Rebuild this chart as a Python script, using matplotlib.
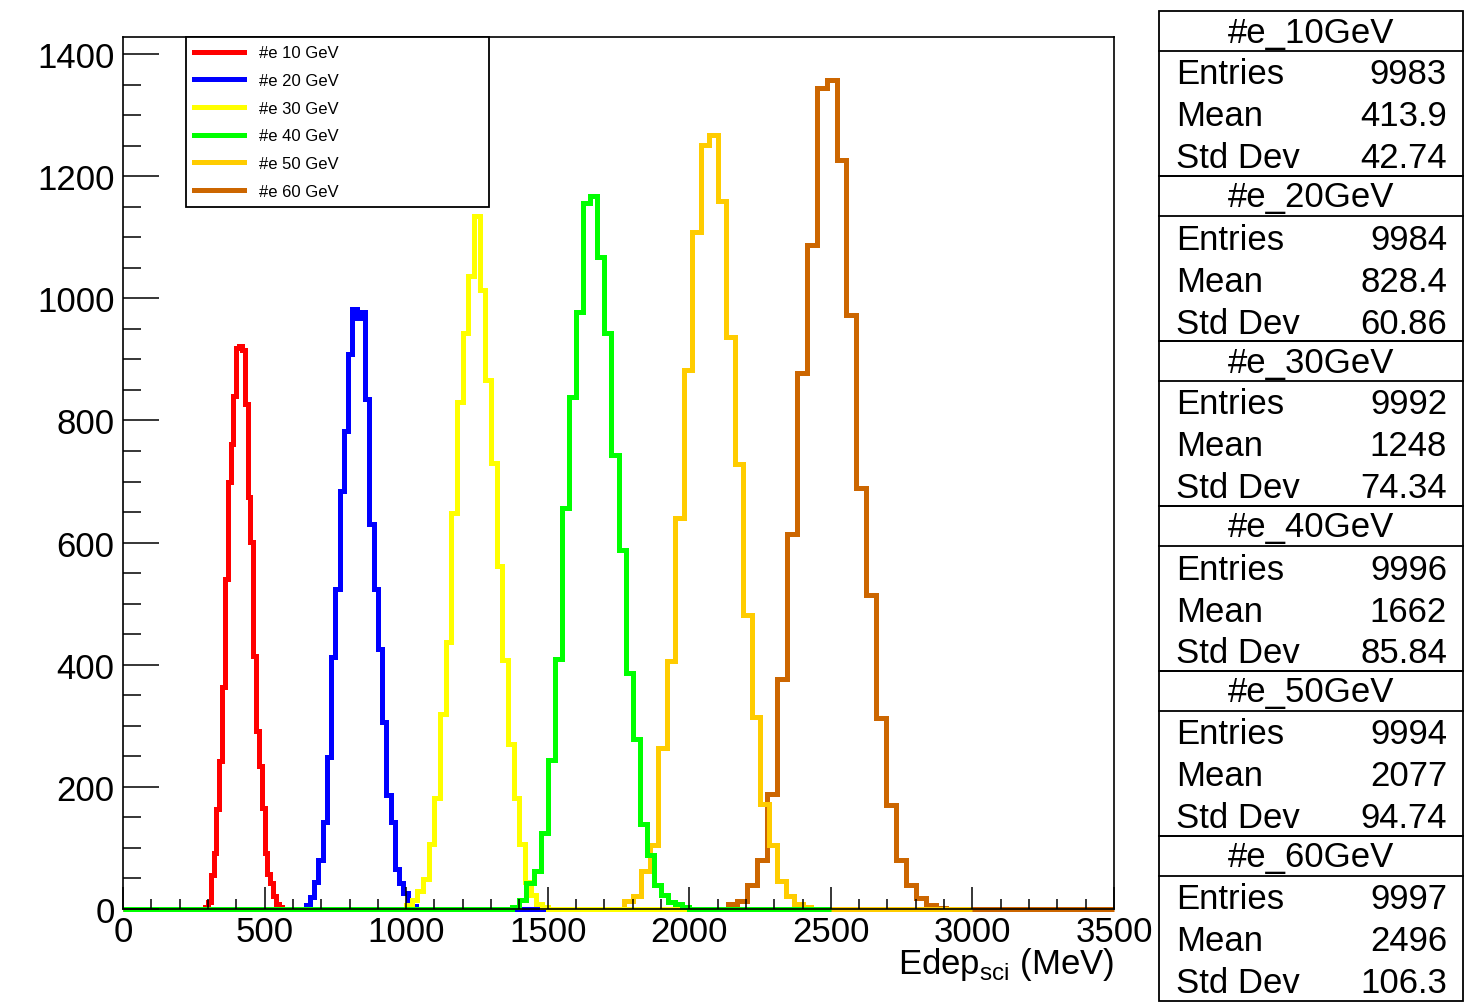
import matplotlib
matplotlib.use("Agg")
import matplotlib.pyplot as plt
import numpy as np
from matplotlib.patches import Rectangle
from matplotlib.ticker import MultipleLocator

plt.rcParams['font.family'] = ['Liberation Sans', 'DejaVu Sans']
plt.rcParams['mathtext.fontset'] = 'custom'
plt.rcParams['mathtext.rm'] = 'Liberation Sans'

# histogram contents (100 bins each, range 0..xmax)
labels = ["#e 10 GeV", "#e 20 GeV", "#e 30 GeV", "#e 40 GeV", "#e 50 GeV", "#e 60 GeV"]
names = ["#e_10GeV", "#e_20GeV", "#e_30GeV", "#e_40GeV", "#e_50GeV", "#e_60GeV"]
colors = ["#ff0000", "#0000ff", "#ffff00", "#00ff00", "#ffcc00", "#cc6600"]
xmax = [1000, 1500, 2000, 2500, 3000, 3500]
first_bin = [29, 43, 50, 55, 59, 61]

e10_counts = [3, 12, 55, 92, 163, 243, 363, 540, 699, 761, 840, 918, 922, 915,
              827, 675, 601, 415, 292, 234, 166, 92, 58, 43, 22, 9, 3]
e20_counts = [6, 19, 45, 81, 142, 249, 413, 524, 685, 783, 909, 982, 968, 978,
              835, 630, 524, 426, 307, 187, 142, 65, 42, 26, 10, 5]
e30_counts = [7, 15, 30, 49, 106, 181, 320, 437, 649, 830, 943, 1037, 1135, 1014,
              867, 731, 562, 407, 271, 181, 106, 45, 23, 8, 4]
e40_counts = [4, 15, 43, 62, 124, 244, 410, 657, 839, 978, 1156, 1168, 1067, 944,
              743, 588, 387, 278, 139, 89, 39, 23, 12, 8, 4]
e50_counts = [13, 21, 63, 105, 264, 406, 640, 883, 1109, 1251, 1268, 1159, 937,
              728, 481, 314, 172, 105, 46, 21, 8, 4]
e60_counts = [9, 13, 40, 81, 188, 376, 614, 878, 1088, 1344, 1357, 1227, 972,
              690, 515, 313, 170, 81, 40, 18, 7, 2]
all_counts = [e10_counts, e20_counts, e30_counts, e40_counts, e50_counts, e60_counts]

entries = ["9983", "9984", "9992", "9996", "9994", "9997"]
means = ["413.9", "828.4", "1248", "1662", "2077", "2496"]
stddevs = ["42.74", "60.86", "74.34", "85.84", "94.74", "106.3"]

W, H = 1471, 1003
fig = plt.figure(figsize=(W / 100, H / 100), dpi=100)
ax = fig.add_axes([123 / W, 1 - 910 / H, (1114 - 123) / W, (910 - 38) / H])

# drawn in this order so the green zero line sits on top, like the original
for k in [5, 4, 0, 1, 2, 3]:
    vals = np.zeros(100)
    c = all_counts[k]
    vals[first_bin[k]:first_bin[k] + len(c)] = c
    edges = np.linspace(0, xmax[k], 101)
    ax.stairs(vals, edges, color=colors[k], linewidth=3.6, baseline=None,
              clip_on=False)

ax.set_xlim(0, 3500)
ax.set_ylim(0, 1428)
ax.xaxis.set_major_locator(MultipleLocator(500))
ax.xaxis.set_minor_locator(MultipleLocator(100))
ax.yaxis.set_major_locator(MultipleLocator(200))
ax.yaxis.set_minor_locator(MultipleLocator(50))
ax.tick_params(axis='x', which='major', direction='in', length=16, width=1.1,
               labelsize=25, pad=4)
ax.tick_params(axis='x', which='minor', direction='in', length=7.5, width=1.1)
ax.tick_params(axis='y', which='major', direction='in', length=26, width=1.1,
               labelsize=25, pad=6)
ax.tick_params(axis='y', which='minor', direction='in', length=13, width=1.1)
for s in ax.spines.values():
    s.set_linewidth(1.2)
ax.set_xlabel(r"Edep$_{\rm sci}$ (MeV)", fontsize=25, loc='right', labelpad=-2)

handles = [plt.Line2D([], [], color=colors[k], linewidth=3.6) for k in range(6)]
leg = ax.legend(handles, labels, loc='upper left', fontsize=12,
                bbox_to_anchor=((186 - 123) / 991, 1.0, (489 - 186) / 991, 0.0),
                mode='expand', fancybox=False, framealpha=1, edgecolor='black',
                handlelength=3.0, handletextpad=0.9, labelspacing=0.76,
                borderpad=0.5, borderaxespad=0)
leg.get_frame().set_linewidth(1.3)

# stats boxes on the right
bx0, bx1 = 1159, 1463
for i in range(6):
    top = 12 + 165 * i
    fig.patches.append(Rectangle((bx0 / W, 1 - (top + 165) / H), (bx1 - bx0) / W,
                                 165 / H, transform=fig.transFigure, fill=False,
                                 edgecolor='black', linewidth=1.3))
    fig.add_artist(plt.Line2D([bx0 / W, bx1 / W], [1 - (top + 40) / H] * 2,
                              color='black', linewidth=1.3))
    fig.text((bx0 + bx1) / 2 / W, 1 - (top + 21) / H, names[i], fontsize=25,
             ha='center', va='center')
    rows = [("Entries", entries[i]), ("Mean", means[i]), ("Std Dev", stddevs[i])]
    for j, (a, b) in enumerate(rows):
        y = 1 - (top + 63 + 42 * j) / H
        fig.text(1176 / W, y, a, fontsize=25, ha='left', va='center')
        fig.text(1447 / W, y, b, fontsize=25, ha='right', va='center')

fig.savefig("out.png", dpi=100)
